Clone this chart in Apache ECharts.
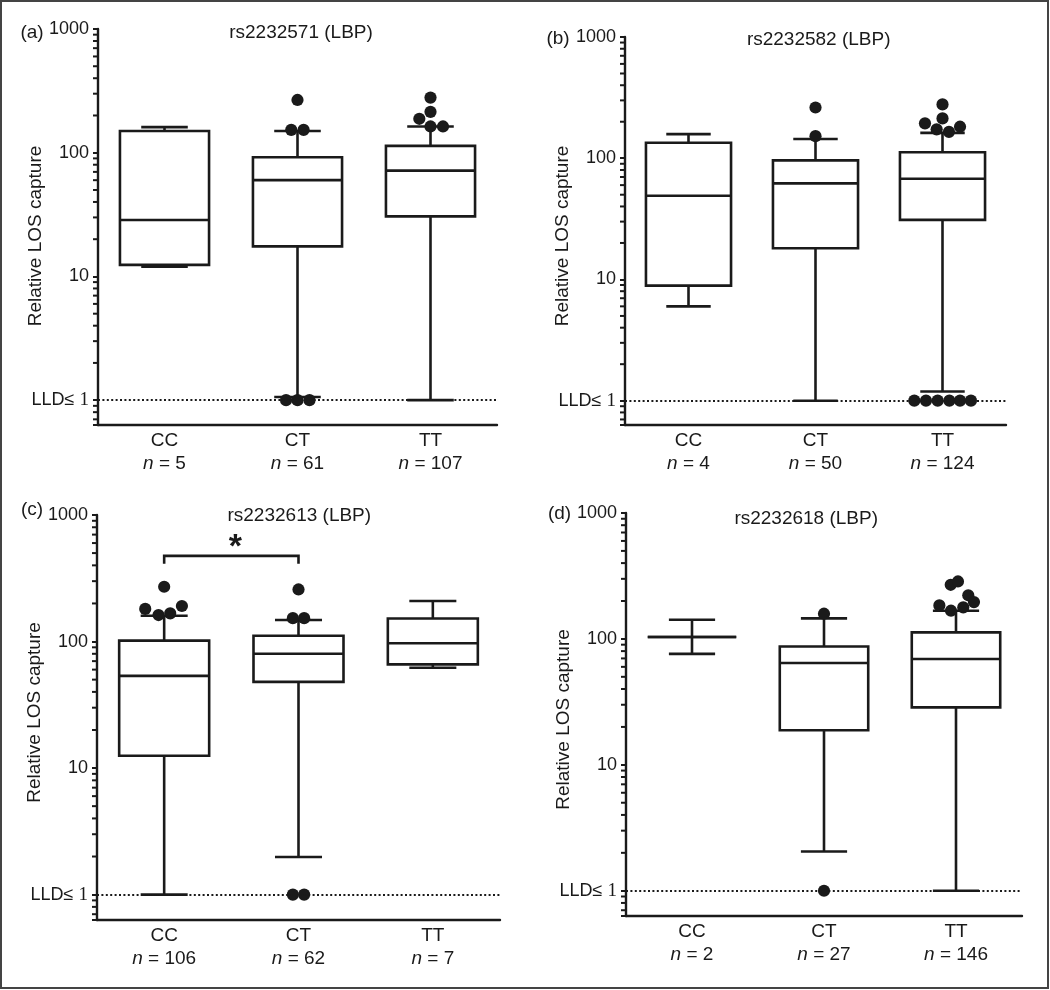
<!DOCTYPE html>
<html><head><meta charset="utf-8">
<script src="https://cdn.jsdelivr.net/npm/echarts@6/dist/echarts.min.js"></script>
<style>html,body{margin:0;padding:0;background:#fff}#chart{width:1050px;height:990px}</style>
</head><body><div id="chart"></div>
<script>
// ---------------- data ----------------
const genotypes = ['CC', 'CT', 'TT'];
const panelTags = ['(a)', '(b)', '(c)', '(d)'];
const snpTitles = ['rs2232571 (LBP)', 'rs2232582 (LBP)', 'rs2232613 (LBP)', 'rs2232618 (LBP)'];
const sampleSizes = [[5, 61, 107], [4, 50, 124], [106, 62, 7], [2, 27, 146]];
const yAxisTitle = 'Relative LOS capture';
const yTickLabels = ['LLD\u2264 1', '10', '100', '1000'];   // at 10^0 .. 10^3
const yMinorTicks = [0.7, 0.8, 0.9, 2, 3, 4, 5, 6, 7, 8, 9, 20, 30, 40, 50, 60, 70, 80, 90,
                     200, 300, 400, 500, 600, 700, 800, 900];
const lldValue = 1;

// box statistics per genotype: [min, q1, median, q3, max]
const boxA = [[12.0, 12.4, 28.6, 150, 161], [1.06, 17.5, 60, 92, 150], [1, 30.6, 71.7, 113.5, 163]];
const boxB = [[6.0, 8.9, 49, 134, 158], [1, 18.1, 62, 96, 144], [1.19, 31, 67.8, 112, 162]];
const boxC = [[1, 12.5, 53.5, 101.6, 160], [1.98, 48, 80, 111, 148], [62, 66, 97, 152, 209]];
const boxD = [[76, 103.5, 103.5, 103.5, 142], [2.05, 18.8, 64.4, 87, 145.5], [1, 28.6, 69.3, 112.7, 167.5]];

// outliers: [genotype index, value, horizontal jitter as a fraction of the category band]
const outA = [[1, 267, 0], [1, 153, -0.047], [1, 153, 0.046], [1, 1, -0.086], [1, 1, 0], [1, 1, 0.09],
              [2, 279, 0], [2, 214, 0], [2, 188, -0.084], [2, 163, 0], [2, 163, 0.094]];
const outB = [[1, 262, 0], [1, 152, 0],
              [2, 278, 0], [2, 213, 0], [2, 194, -0.138], [2, 182, 0.138], [2, 173, -0.046], [2, 165, 0.051],
              [2, 1, -0.222], [2, 1, -0.13], [2, 1, -0.038], [2, 1, 0.054], [2, 1, 0.138], [2, 1, 0.224]];
const outC = [[0, 271, 0], [0, 181, -0.141], [0, 191, 0.132], [0, 162, -0.042], [0, 167, 0.045],
              [1, 258, 0], [1, 153, -0.042], [1, 153, 0.042], [1, 1, -0.042], [1, 1, 0.042]];
const outD = [[1, 158.6, 0], [1, 1, 0],
              [2, 269, -0.04], [2, 286, 0.015], [2, 222, 0.093], [2, 196, 0.136], [2, 184.5, -0.126],
              [2, 178, 0.055], [2, 167.5, -0.038]];

// significance bracket in panel (c): [from genotype, to genotype, bar value, leg-end value, mark]
const sigC = [[0, 1, 475, 411, '*']];

// ---------------- layout / style ----------------
const INK = '#1a1a1a';
const FONT = '"Liberation Sans", Arial, Helvetica, sans-serif';
const boxes = [boxA, boxB, boxC, boxD];
const outliers = [outA, outB, outC, outD];
const grids = [
  {left: 98, top: 29, width: 399, height: 396},
  {left: 625, top: 37, width: 381, height: 388},
  {left: 97, top: 515, width: 403, height: 405},
  {left: 626, top: 513, width: 396, height: 403}
];
const namePad = [[0, 18, 0, 0], [0, 10, 0, 0], [0, 0, 0, 10], [0, 10, 0, 0]];
const tagPos = [[32, 33], [558, 39], [32, 510], [559.5, 514]];
const titlePos = [[301, 32.5], [818.7, 40], [299.3, 515.5], [806.2, 519]];

const lineStyle = {stroke: INK, lineWidth: 2.6, fill: null, lineCap: 'butt'};

function renderBox(params, api) {
  const cat = api.value(0);
  const ys = [1, 2, 3, 4, 5].map(i => api.coord([cat, api.value(i)])[1]);
  const cx = api.coord([cat, api.value(3)])[0];
  const band = api.size([1, 0], [cat, 10])[0];
  const bw = band * 0.67, cw = band * 0.35;
  const L = (x1, y1, x2, y2) => ({type: 'line', shape: {x1, y1, x2, y2}, style: lineStyle});
  return {type: 'group', children: [
    L(cx, ys[4], cx, ys[3]),
    L(cx, ys[1], cx, ys[0]),
    L(cx - cw / 2, ys[4], cx + cw / 2, ys[4]),
    L(cx - cw / 2, ys[0], cx + cw / 2, ys[0]),
    {type: 'rect', shape: {x: cx - bw / 2, y: ys[3], width: bw, height: ys[1] - ys[3]}, style: lineStyle},
    L(cx - bw / 2, ys[2], cx + bw / 2, ys[2])
  ]};
}
function renderDot(params, api) {
  const cat = api.value(0);
  const p = api.coord([cat, api.value(1)]);
  const band = api.size([1, 0], [cat, 10])[0];
  return {type: 'circle', shape: {cx: p[0] + api.value(2) * band, cy: p[1], r: 6.1}, style: {fill: INK}};
}
function renderMinor(params, api) {
  const y = api.coord([0, api.value(1)])[1];
  const x0 = params.coordSys.x;
  return {type: 'line', shape: {x1: x0 - 5, y1: y, x2: x0, y2: y}, style: {stroke: INK, lineWidth: 2}};
}
function renderBracket(params, api) {
  const a = api.coord([api.value(0), api.value(2)]);
  const b = api.coord([api.value(1), api.value(2)]);
  const leg = api.coord([api.value(0), api.value(3)])[1];
  return {type: 'group', children: [
    {type: 'polyline', shape: {points: [[a[0], leg], [a[0], a[1]], [b[0], b[1]], [b[0], leg]]}, style: lineStyle},
    {type: 'text', x: (a[0] + b[0]) / 2 + 4, y: a[1] + 9,
     style: {text: sigC[params.dataIndex][4], fontSize: 34, fontWeight: 'bold', fontFamily: FONT, fill: INK,
             align: 'center', verticalAlign: 'bottom'}}
  ]};
}
function yLabel(v) {
  const e = Math.log10(v);
  const k = Math.round(e);
  if (Math.abs(e - k) > 1e-6 || k < 0 || k >= yTickLabels.length) return '';
  const lab = yTickLabels[k];
  if (k === 0) return '{l|' + lab.slice(0, -1) + '}{s|' + lab.slice(-1) + '}';
  return lab;
}

const option = {
  animation: false,
  backgroundColor: '#fff',
  textStyle: {fontFamily: FONT, color: INK},
  grid: grids.map(g => Object.assign({outerBoundsMode: 'none', containLabel: false}, g)),
  xAxis: grids.map((g, gi) => ({
    type: 'category', gridIndex: gi, data: genotypes, boundaryGap: true,
    axisLine: {show: true, lineStyle: {color: INK, width: 2.4}},
    axisTick: {show: false},
    splitLine: {show: false},
    axisLabel: {
      margin: 4, color: INK, fontFamily: FONT, fontSize: 19, interval: 0,
      formatter: (v, idx) => '{g|' + v + '}\n{i|n}{t| = ' + sampleSizes[gi][idx] + '}',
      rich: {
        g: {fontSize: 19, lineHeight: 23, fontFamily: FONT, color: INK},
        i: {fontSize: 19, lineHeight: 23, fontFamily: FONT, fontStyle: 'italic', color: INK},
        t: {fontSize: 19, lineHeight: 23, fontFamily: FONT, color: INK}
      }
    }
  })),
  yAxis: grids.map((g, gi) => ({
    type: 'log', logBase: 10, gridIndex: gi, min: 0.63, max: 1000,
    name: yAxisTitle, nameLocation: 'middle', nameGap: 53, nameMoveOverlap: false,
    nameTextStyle: {fontSize: 19, fontFamily: FONT, color: INK, padding: namePad[gi]},
    axisLine: {show: true, lineStyle: {color: INK, width: 2.4}},
    axisTick: {show: true, length: 5, lineStyle: {color: INK, width: 2}},
    minorTick: {show: false},
    splitLine: {show: false},
    axisLabel: {
      margin: 9, color: INK, fontSize: 18, fontFamily: FONT, formatter: yLabel,
      rich: {
        l: {fontSize: 18, fontFamily: FONT, color: INK},
        s: {fontSize: 19, fontFamily: '"Liberation Serif", "Times New Roman", serif', color: INK}
      }
    }
  })),
  series: [].concat(...grids.map((g, gi) => {
    const s = [
      {type: 'custom', xAxisIndex: gi, yAxisIndex: gi, z: 3, clip: false,
       data: boxes[gi].map((b, j) => [j].concat(b)),
       encode: {x: 0, y: [1, 2, 3, 4, 5]},
       renderItem: renderBox,
       markLine: {silent: true, symbol: 'none', label: {show: false}, animation: false,
                  lineStyle: {type: [2, 2.4], color: INK, width: 2.2},
                  data: [{yAxis: lldValue}]}},
      {type: 'custom', xAxisIndex: gi, yAxisIndex: gi, z: 4, clip: false,
       data: outliers[gi], encode: {x: 0, y: 1}, renderItem: renderDot},
      {type: 'custom', xAxisIndex: gi, yAxisIndex: gi, z: 5, clip: false,
       data: yMinorTicks.map(v => [0, v]), encode: {x: 0, y: 1}, renderItem: renderMinor}
    ];
    if (gi === 2) {
      s.push({type: 'custom', xAxisIndex: gi, yAxisIndex: gi, z: 4, clip: false,
              data: sigC.map(r => r.slice(0, 4)), encode: {x: [0, 1], y: [2, 3]}, renderItem: renderBracket});
    }
    return s;
  })),
  graphic: [].concat(
    [{type: 'rect', shape: {x: 1, y: 1, width: 1047, height: 987}, style: {fill: null, stroke: '#444', lineWidth: 2}, z: 10}],
    panelTags.map((t, i) => ({type: 'text', x: tagPos[i][0], y: tagPos[i][1],
      style: {text: t, fontSize: 19, fontFamily: FONT, fill: INK, align: 'center', verticalAlign: 'middle'}})),
    snpTitles.map((t, i) => ({type: 'text', x: titlePos[i][0], y: titlePos[i][1],
      style: {text: t, fontSize: 19, fontFamily: FONT, fill: INK, align: 'center', verticalAlign: 'middle'}}))
  )
};
const chart = echarts.init(document.getElementById('chart'), null, {renderer: 'canvas'});
chart.setOption(option);
</script>
</body></html>
